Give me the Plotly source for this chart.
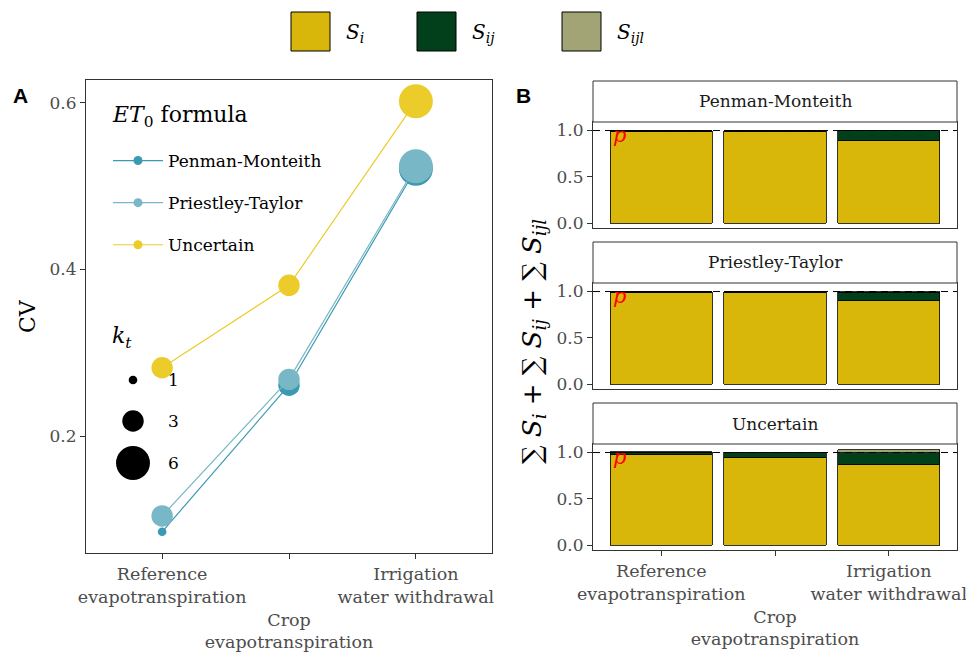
import math
import plotly.graph_objects as go

# ---------------- data ----------------
categories = ["Reference evapotranspiration", "Crop evapotranspiration", "Irrigation water withdrawal"]
cat_labels = ["Reference<br>evapotranspiration",
              "<br><br>Crop<br>evapotranspiration",
              "Irrigation<br>water withdrawal"]
formulas = ["Penman-Monteith", "Priestley-Taylor", "Uncertain"]
formula_colors = ["#3B9AB2", "#78B7C5", "#EBCC2A"]

cv_pm = [0.085, 0.261, 0.521]
cv_pt = [0.104, 0.268, 0.524]
cv_unc = [0.282, 0.381, 0.602]
kt_pm = [1, 3, 6]
kt_pt = [3, 3, 6]
kt_unc = [3, 3, 6]
kt_legend = [1, 3, 6]

components = ["S_i", "S_ij", "S_ijl"]
component_labels = ["<i>S</i><sub><i>i</i></sub>", "<i>S</i><sub><i>ij</i></sub>", "<i>S</i><sub><i>ijl</i></sub>"]
component_colors = ["#D8B70A", "#02401B", "#A2A475"]

si_pm = [0.993, 0.992, 0.895]
sij_pm = [0.005, 0.006, 0.100]
sijl_pm = [0.002, 0.002, 0.008]
si_pt = [0.993, 0.992, 0.900]
sij_pt = [0.005, 0.006, 0.090]
sijl_pt = [0.002, 0.002, 0.006]
si_unc = [0.975, 0.950, 0.870]
sij_unc = [0.030, 0.048, 0.125]
sijl_unc = [0.003, 0.004, 0.035]

cv_ticks = [0.2, 0.4, 0.6]
sens_ticks = [0.0, 0.5, 1.0]

# ---------------- helpers ----------------
OFF = 8                      # default page body margin
W, H = 974 - OFF, 655 - OFF  # figure fits the window
def X(px): return (px - OFF) / W
def Y(py): return 1 - (py - OFF) / H

def diam(k):
    s = 1 + 5 * (math.sqrt(k) - 1) / (math.sqrt(6) - 1)
    return 3.6 + 5.06 * s

SERIF = "DejaVu Serif"
GREY = "#4D4D4D"
FRAME = "#333333"

fig = go.Figure()

# ---------------- panel A ----------------
cv_series = [cv_pm, cv_pt, cv_unc]
kt_series = [kt_pm, kt_pt, kt_unc]
for name, col, cv, kt in zip(formulas, formula_colors, cv_series, kt_series):
    fig.add_trace(go.Scatter(
        x=categories, y=cv, mode="lines+markers", name=name,
        line=dict(color=col, width=1.2),
        marker=dict(color=col, size=[diam(k) for k in kt], opacity=1, line=dict(width=0)),
        xaxis="x", yaxis="y", showlegend=False))
# legend-only entries
for name, col in zip(formulas, formula_colors):
    fig.add_trace(go.Scatter(
        x=[None], y=[None], mode="lines+markers", name=name,
        line=dict(color=col, width=1.2), marker=dict(color=col, size=9, opacity=1),
        legendgroup=name, xaxis="x", yaxis="y", showlegend=True))

# ---------------- panel B ----------------
bar_sets = [(si_pm, sij_pm, sijl_pm), (si_pt, sij_pt, sijl_pt), (si_unc, sij_unc, sijl_unc)]
for p, comps in enumerate(bar_sets):
    ax = str(p + 2)
    for cname, ccol, vals in zip(components, component_colors, comps):
        fig.add_trace(go.Bar(
            x=categories, y=vals, name=cname, width=0.9,
            marker=dict(color=ccol, line=dict(color="black", width=0.8)),
            xaxis="x" + ax, yaxis="y" + ax, showlegend=False))

# panel geometry (reference pixels)
A_x = (86, 492); A_y = (80, 553)
B_x = (593, 957)
B_panels = [(122, 228), (283, 389), (444, 550)]
B_strips = [(81, 122), (242, 283), (403, 444)]

axis_common = dict(showline=True, linecolor=FRAME, linewidth=1, mirror=True,
                   showgrid=False, zeroline=False, ticks="outside", ticklen=5,
                   tickcolor=FRAME, tickfont=dict(family=SERIF, size=17, color=GREY))
xfont = dict(family=SERIF, size=17.5, color=GREY)

layout = dict(
    width=W, height=H, autosize=False,
    margin=dict(l=0, r=0, t=0, b=0, autoexpand=False),
    paper_bgcolor="white", plot_bgcolor="white", barmode="stack", bargap=0.1,
    font=dict(family=SERIF, color="black"),
    xaxis=dict(domain=[X(A_x[0]), X(A_x[1])], anchor="y", type="category",
               categoryarray=categories, range=[-0.6, 2.6],
               tickvals=categories, ticktext=cat_labels, tickangle=0, **axis_common),
    yaxis=dict(domain=[Y(A_y[1]), Y(A_y[0])], anchor="x", range=[0.0595, 0.6276],
               tickvals=cv_ticks, ticktext=[f"{v:.1f}" for v in cv_ticks], **axis_common),
    legend=dict(x=X(108), y=Y(143), xanchor="left", yanchor="top",
                bgcolor="rgba(0,0,0,0)", borderwidth=0,
                font=dict(family=SERIF, size=17, color="black"),
                tracegroupgap=17, itemwidth=50, itemsizing="trace"),
)
layout["xaxis"]["tickfont"] = xfont
for p in range(3):
    ax = str(p + 2)
    top, bot = B_panels[p]
    bottom = (p == 2)
    xa = dict(domain=[X(B_x[0]), X(B_x[1])], anchor="y" + ax, type="category",
              categoryarray=categories, range=[-0.6, 2.6],
              tickvals=categories, ticktext=cat_labels if bottom else [""] * 3,
              tickangle=0, **axis_common)
    xa["tickfont"] = xfont
    if not bottom:
        xa["ticks"] = ""
        xa["showticklabels"] = False
    layout["xaxis" + ax] = xa
    layout["yaxis" + ax] = dict(domain=[Y(bot), Y(top)], anchor="x" + ax,
                                range=[-0.052, 1.092], tickvals=sens_ticks,
                                ticktext=[f"{v:.1f}" for v in sens_ticks], **axis_common)
fig.update_layout(**layout)

shapes = []
annotations = []

def note(px, py, text, size, color="black", family=SERIF, xanchor="center", angle=0):
    annotations.append(dict(x=X(px), y=Y(py), xref="paper", yref="paper",
                            xanchor=xanchor, yanchor="middle", text=text, showarrow=False,
                            textangle=angle, font=dict(family=family, size=size, color=color)))

# dashed line at 1 and red p, strips
for p in range(3):
    ax = str(p + 2)
    shapes.append(dict(type="line", xref="x" + ax + " domain", yref="y" + ax,
                       x0=0, x1=1, y0=1, y1=1, layer="above",
                       line=dict(color="black", width=1, dash="7px,5px")))
    annotations.append(dict(x=-0.37, y=0.95, xref="x" + ax, yref="y" + ax,
                            xanchor="center", yanchor="middle",
                            text="<i>p</i>", showarrow=False,
                            font=dict(family=SERIF, size=21, color="red")))
    s0, s1 = B_strips[p]
    shapes.append(dict(type="rect", xref="paper", yref="paper",
                       x0=X(B_x[0]), x1=X(B_x[1]), y0=Y(s1), y1=Y(s0),
                       fillcolor="white", line=dict(color=FRAME, width=1)))
    note((B_x[0] + B_x[1]) / 2, (s0 + s1) / 2, formulas[p], 17, color="#1A1A1A")

# top legend for components
key_x = [291, 417, 562]
for kx, lab, col in zip(key_x, component_labels, component_colors):
    shapes.append(dict(type="rect", xref="paper", yref="paper",
                       x0=X(kx), x1=X(kx + 39), y0=Y(51), y1=Y(12),
                       fillcolor=col, line=dict(color="black", width=1)))
    note(kx + 53, 33, lab, 20, xanchor="left")

# legend title for formulas
note(110, 116, "<i>ET</i><sub>0</sub> formula", 22, xanchor="left")

# k_t size legend
note(110, 337, "<i>k</i><sub><i>t</i></sub>", 22, xanchor="left")
kt_y = [380, 421, 463]
for k, ky in zip(kt_legend, kt_y):
    d = diam(k)
    shapes.append(dict(type="circle", xref="paper", yref="paper",
                       xsizemode="pixel", ysizemode="pixel",
                       xanchor=X(133), yanchor=Y(ky),
                       x0=-d / 2, x1=d / 2, y0=-d / 2, y1=d / 2,
                       fillcolor="black", line=dict(width=0)))
    note(166, ky, str(k), 17, xanchor="left")

# axis titles & panel tags
note(27, 316, "CV", 22, angle=-90)
note(533, 342, "∑ <i>S</i><sub><i>i</i></sub> + ∑ <i>S</i><sub><i>ij</i></sub> + ∑ <i>S</i><sub><i>ijl</i></sub>",
     26, angle=-90)
note(20, 95, "<b>A</b>", 21, family="Liberation Sans")
note(523, 95, "<b>B</b>", 21, family="Liberation Sans")

fig.update_layout(shapes=shapes, annotations=annotations)
fig.write_html("out.html")
